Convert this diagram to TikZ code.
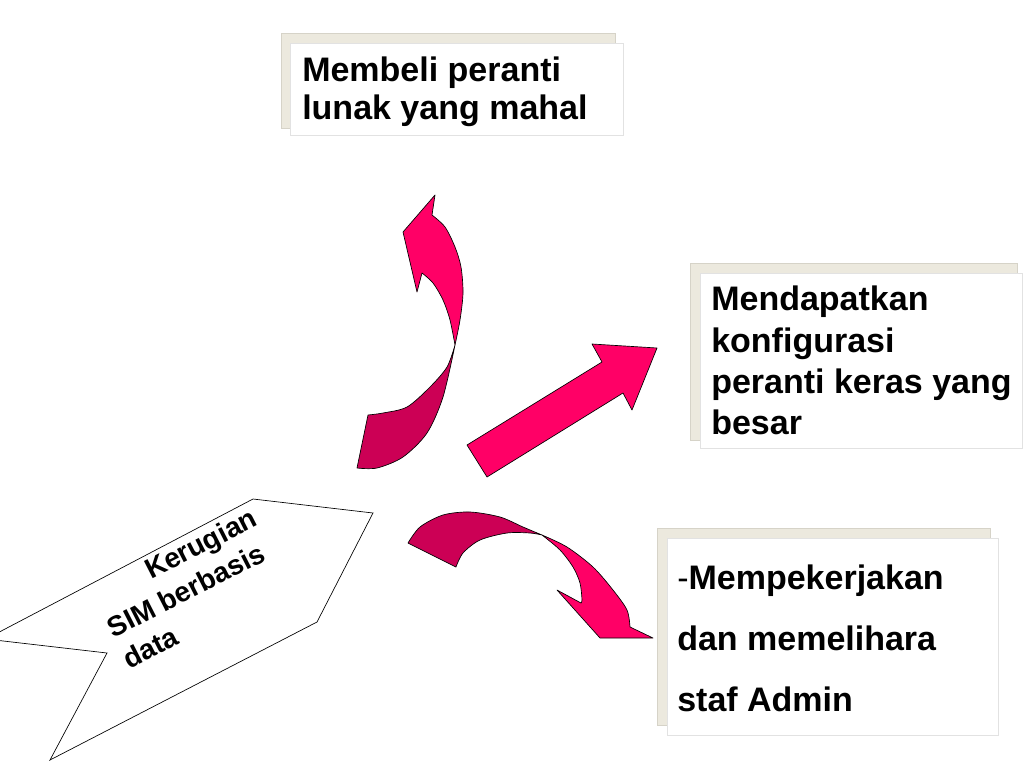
\documentclass[tikz,border=0pt]{standalone}
\usepackage{fontspec}
\setmainfont{Liberation Sans}
\usepackage{tikz}
\usetikzlibrary{arrows.meta,calc}
\usepackage{xcolor}
\definecolor{arrowpink}{HTML}{FF0066}
\definecolor{arrowdark}{HTML}{CC0055}
\definecolor{shadowgray}{HTML}{ECE9DE}
\definecolor{shadowline}{HTML}{D6D3C8}
\definecolor{boxline}{HTML}{E2E2E2}

\tikzset{
  backbox/.style={fill=shadowgray,draw=shadowline,line width=0.4pt},
  frontbox/.style={fill=white,draw=boxline,line width=0.4pt},
  ribbon/.style={fill=arrowpink,draw=black,line width=0.5pt,line join=round},
  ribbonback/.style={fill=arrowdark,draw=black,line width=0.5pt,line join=round},
  boxtext/.style={align=left,anchor=north west,inner sep=0pt},
}

\begin{document}
\begin{tikzpicture}[x=0.75pt,y=-0.75pt]
  % 画面 1024x768
  \useasboundingbox (0,0) rectangle (1024,768);
  \clip (0,0) rectangle (1024,768);

  % 左下：五边形标签
  \draw[line width=0.5pt,fill=white] (253,499) -- (373,513) -- (317,622) -- (50,760)
    -- (107,653) -- (-14,639) -- cycle;
  \node[boxtext,rotate=27,font=\fontsize{21}{26.25}\selectfont\bfseries] (loss) at (88,589)
    {\hspace*{45pt}Kerugian\\SIM berbasis\\data};

  % 向上弯曲箭头：背面（深色）
  \filldraw[ribbonback] (368,415) -- plot[smooth] coordinates {(368,415) (383,413) (407,407) (430,387) (447,367) (455,345)}
    -- plot[smooth] coordinates {(455,345) (443,397) (427,433) (403,457) (377,468) (357,468)} -- cycle;
  % 正面与箭头
  \filldraw[ribbon] (455,345) -- plot[smooth] coordinates {(455,345) (460,320) (463,293) (461,267) (455,247) (445,227) (432,215)}
    -- (435,195) -- (403,232) -- (417,292) -- (422,273)
    -- plot[smooth] coordinates {(422,273) (433,283) (443,300) (450,320) (455,345)} -- cycle;

  % 直箭头
  \filldraw[ribbon] (467,445) -- (602,362) -- (592,344) -- (657,348) -- (632,410)
    -- (623,393) -- (487,477) -- cycle;

  % 向下弯曲箭头：背面（深色）
  \filldraw[ribbonback] (408,543) -- plot[smooth] coordinates {(408,543) (420,527) (443,515) (470,512) (500,517) (523,527) (542,535)}
    -- plot[smooth] coordinates {(542,535) (530,533) (507,533) (480,540) (463,553) (456,567)} -- cycle;
  % 正面与箭头
  \filldraw[ribbon] (542,535) -- plot[smooth] coordinates {(542,535) (567,547) (593,567) (613,590) (627,610) (630,627)}
    -- (653,638) -- (600,638) -- (557,590) -- (581,603)
    -- plot[smooth] coordinates {(581,603) (582,600) (580,583) (573,567) (560,550) (542,535)} -- cycle;

  % 文本框 1
  \draw[backbox] (281,33) rectangle (615,128);
  \draw[frontbox] (290,43) rectangle (623,135);
  \node[boxtext,font=\fontsize{25.5}{28.5}\selectfont\bfseries] (cost) at (302,57)
    {Membeli peranti\\lunak yang mahal};

  % 文本框 2
  \draw[backbox] (690,263) rectangle (1017,440);
  \draw[frontbox] (700,273) rectangle (1022,448);
  \node[boxtext,font=\fontsize{25.5}{31}\selectfont\bfseries] (hardware) at (711,286)
    {Mendapatkan\\konfigurasi\\peranti keras yang\\besar};

  % 文本框 3
  \draw[backbox] (657,528) rectangle (990,725);
  \draw[frontbox] (667,538) rectangle (998,735);
  \node[boxtext,font=\fontsize{25.5}{45.75}\selectfont\bfseries] (staff) at (677,565)
    {\textmd{-}Mempekerjakan\\dan memelihara\\staf Admin};
\end{tikzpicture}
\end{document}
